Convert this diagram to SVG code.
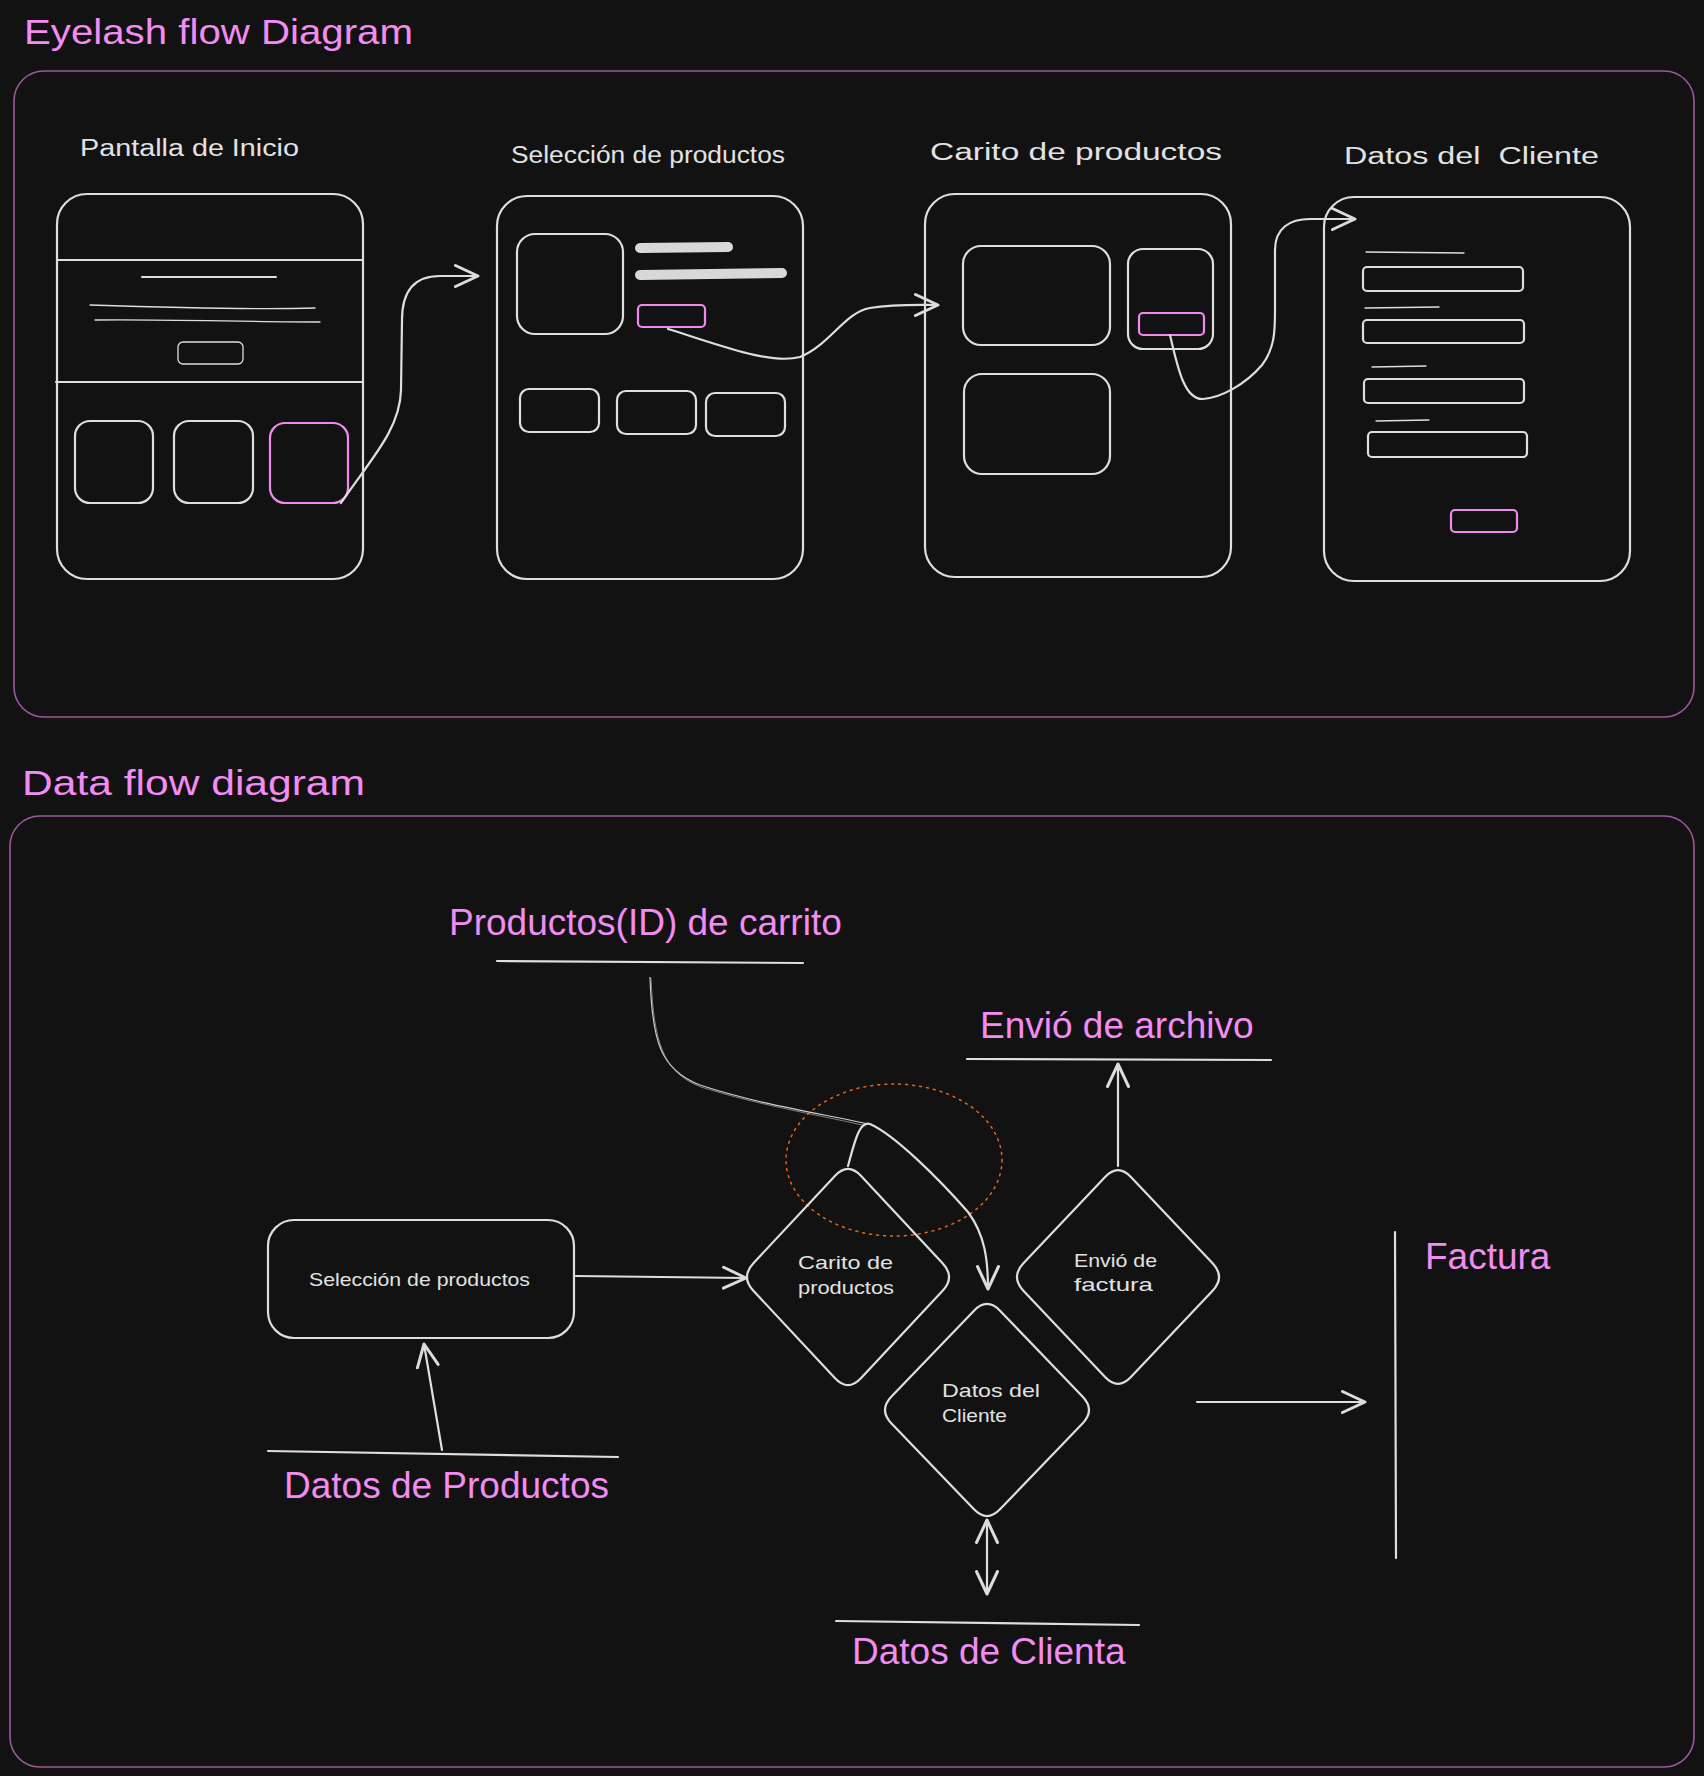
<svg xmlns="http://www.w3.org/2000/svg" width="1704" height="1776" viewBox="0 0 1704 1776">
<defs>
<marker id="arr" markerUnits="userSpaceOnUse" markerWidth="30" markerHeight="30" viewBox="-16 -10 20 20" refX="0" refY="0" orient="auto-start-reverse">
<path d="M-15,-7 L0,0 L-15,7" fill="none" stroke="#dcdcdc" stroke-width="2" stroke-linecap="round" stroke-linejoin="round"/>
</marker>
<style>
.bg{fill:#121212}
.frame{fill:none;stroke:#9c589c;stroke-width:1.6}
.w{fill:none;stroke:#dedede;stroke-width:2.2;stroke-linecap:round;stroke-linejoin:round}
.wt{fill:none;stroke:#dedede;stroke-width:1.3;stroke-linecap:round}
.pk{fill:none;stroke:#f08af0;stroke-width:2.2}
.bar{stroke:#d8d8d8;stroke-width:10;stroke-linecap:round}
.ttl{font-family:"Liberation Sans","DejaVu Sans",sans-serif;fill:#f28cf2;font-size:35px}
.hl{font-family:"Liberation Sans","DejaVu Sans",sans-serif;fill:#e2e2e2;font-size:23px}
.sm{font-family:"Liberation Sans","DejaVu Sans",sans-serif;fill:#e2e2e2;font-size:19px}
.pt{font-family:"Liberation Sans","DejaVu Sans",sans-serif;fill:#f28cf2;font-size:37px}
.conn{fill:none;stroke:#dedede;stroke-width:2.2;stroke-linecap:round}
</style>
</defs>
<rect class="bg" x="0" y="0" width="1704" height="1776"/>

<!-- Section 1 -->
<g id="title1"><text class="ttl" x="24" y="44" textLength="389" lengthAdjust="spacingAndGlyphs">Eyelash flow Diagram</text></g>
<g id="frame1"><rect class="frame" x="14" y="71" width="1680" height="646" rx="30"/></g>

<g id="screen-inicio">
<text class="hl" x="80" y="156" textLength="219" lengthAdjust="spacingAndGlyphs">Pantalla de Inicio</text>
<rect class="w" x="57" y="194" width="306" height="385" rx="30"/>
<line class="w" x1="57" y1="260" x2="363" y2="260"/>
<line class="w" x1="56" y1="382" x2="363" y2="382"/>
<line class="w" x1="142" y1="277" x2="276" y2="277" stroke-width="3.5"/>
<path class="wt" d="M90,305 C150,307 250,310 315,308"/>
<path class="wt" d="M95,320 C160,319 250,322 320,322"/>
<rect class="wt" x="178" y="342" width="65" height="22" rx="5"/>
<rect class="w" x="75" y="421" width="78" height="82" rx="15"/>
<rect class="w" x="174" y="421" width="79" height="82" rx="15"/>
<rect class="pk" x="270" y="423" width="78" height="80" rx="15"/>
</g>

<g id="screen-seleccion">
<text class="hl" x="511" y="163" textLength="274" lengthAdjust="spacingAndGlyphs">Selección de productos</text>
<rect class="w" x="497" y="196" width="306" height="383" rx="30"/>
<rect class="w" x="517" y="234" width="106" height="100" rx="18"/>
<line class="bar" x1="640" y1="248" x2="728" y2="247"/>
<line class="bar" x1="640" y1="275" x2="782" y2="273"/>
<rect class="pk" x="638" y="305" width="67" height="22" rx="4"/>
<rect class="w" x="520" y="389" width="79" height="43" rx="9"/>
<rect class="w" x="617" y="391" width="79" height="43" rx="9"/>
<rect class="w" x="706" y="393" width="79" height="43" rx="9"/>
</g>

<g id="screen-carrito">
<text class="hl" x="930" y="160" textLength="292" lengthAdjust="spacingAndGlyphs" font-size="25">Carito de productos</text>
<rect class="w" x="925" y="194" width="306" height="383" rx="30"/>
<rect class="w" x="963" y="246" width="147" height="99" rx="18"/>
<rect class="w" x="1128" y="249" width="85" height="100" rx="15"/>
<rect class="pk" x="1139" y="313" width="65" height="22" rx="4"/>
<rect class="w" x="964" y="374" width="146" height="100" rx="18"/>
</g>

<g id="screen-cliente">
<text class="hl" x="1344" y="164" textLength="255" lengthAdjust="spacingAndGlyphs" font-size="25" xml:space="preserve">Datos del  Cliente</text>
<rect class="w" x="1324" y="197" width="306" height="384" rx="30"/>
<line class="wt" x1="1366" y1="252" x2="1464" y2="253"/>
<rect class="w" x="1363" y="267" width="160" height="24" rx="4"/>
<line class="wt" x1="1365" y1="308" x2="1439" y2="307"/>
<rect class="w" x="1363" y="320" width="161" height="23" rx="4"/>
<line class="wt" x1="1372" y1="367" x2="1426" y2="366"/>
<rect class="w" x="1364" y="379" width="160" height="24" rx="4"/>
<line class="wt" x1="1376" y1="421" x2="1429" y2="420"/>
<rect class="w" x="1368" y="432" width="159" height="25" rx="4"/>
<rect class="pk" x="1451" y="510" width="66" height="22" rx="4"/>
</g>

<g id="connectors-top">
<path class="conn" d="M341,503 C370,460 400,430 401,390 L402,320 C402,290 415,276 440,276 L478,276" marker-end="url(#arr)"/>
<path class="conn" d="M668,329 C720,345 770,365 800,357 C830,345 845,312 870,308 C895,304 915,305 938,305" marker-end="url(#arr)"/>
<path class="conn" d="M1170,335 C1178,370 1185,400 1203,399 C1220,398 1245,385 1262,365 C1275,348 1275,330 1275,310 L1275,250 C1275,228 1290,219 1310,219 L1355,219" marker-end="url(#arr)"/>
</g>

<!-- Section 2 -->
<g id="title2"><text class="ttl" x="22" y="795" textLength="343" lengthAdjust="spacingAndGlyphs">Data flow diagram</text></g>
<g id="frame2"><rect class="frame" x="10" y="816" width="1684" height="951" rx="30"/></g>

<g id="store-productos-id">
<text class="pt" x="449" y="935">Productos(ID) de carrito</text>
<line class="w" x1="497" y1="961" x2="803" y2="963"/>
</g>

<g id="store-envio-archivo">
<text class="pt" x="980" y="1038">Envió de archivo</text>
<line class="w" x1="967" y1="1059" x2="1271" y2="1060"/>
</g>

<g id="store-datos-productos">
<line class="w" x1="268" y1="1451" x2="618" y2="1457"/>
<text class="pt" x="284" y="1498">Datos de Productos</text>
</g>

<g id="store-datos-clienta">
<line class="w" x1="836" y1="1621" x2="1139" y2="1625"/>
<text class="pt" x="852" y="1664">Datos de Clienta</text>
</g>

<g id="store-factura">
<line class="w" x1="1395" y1="1232" x2="1396" y2="1558"/>
<text class="pt" x="1425" y="1269">Factura</text>
</g>

<g id="highlight-ellipse">
<ellipse cx="894" cy="1160" rx="108" ry="76" fill="none" stroke="#e8661a" stroke-width="1.5" stroke-dasharray="2 5" stroke-linecap="round"/>
</g>

<g id="node-seleccion">
<rect class="w" x="268" y="1220" width="306" height="118" rx="26"/>
<text class="sm" x="309" y="1286" textLength="221" lengthAdjust="spacingAndGlyphs">Selección de productos</text>
</g>

<g id="node-carito">
<path class="w" d="M753.4,1263.2 L835.1,1175.8 Q848,1162 860.9,1175.8 L942.6,1263.2 Q955.5,1277 942.6,1290.8 L860.9,1378.2 Q848,1392 835.1,1378.2 L753.4,1290.8 Q740.5,1277 753.4,1263.2 Z"/>
<text class="sm" x="798" y="1269" textLength="95" lengthAdjust="spacingAndGlyphs">Carito de</text>
<text class="sm" x="798" y="1294" textLength="96" lengthAdjust="spacingAndGlyphs">productos</text>
</g>

<g id="node-datos-cliente">
<path class="w" d="M891.5,1396.5 L974,1310.7 Q987,1297.2 1000,1310.7 L1082.5,1396.5 Q1095.5,1410 1082.5,1423.5 L1000,1509.3 Q987,1522.8 974,1509.3 L891.5,1423.5 Q878.5,1410 891.5,1396.5 Z"/>
<text class="sm" x="942" y="1397" textLength="98" lengthAdjust="spacingAndGlyphs">Datos del</text>
<text class="sm" x="942" y="1422" textLength="65" lengthAdjust="spacingAndGlyphs">Cliente</text>
</g>

<g id="node-envio-factura">
<path class="w" d="M1023.4,1263.3 L1105.1,1176.9 Q1118,1163.2 1130.9,1176.9 L1212.6,1263.3 Q1225.5,1277 1212.6,1290.7 L1130.9,1377.1 Q1118,1390.8 1105.1,1377.1 L1023.4,1290.7 Q1010.5,1277 1023.4,1263.3 Z"/>
<text class="sm" x="1074" y="1267" textLength="83" lengthAdjust="spacingAndGlyphs">Envió de</text>
<text class="sm" x="1074" y="1291" textLength="79" lengthAdjust="spacingAndGlyphs">factura</text>
</g>

<g id="connectors-bottom">
<path d="M650,977 C652,1040 660,1070 700,1085 C760,1105 830,1115 868,1124" fill="none" stroke="#cfcfcf" stroke-width="1.2"/>
<path d="M651,978 C654,1041 662,1072 701,1087 C761,1106 830,1117 866,1126" fill="none" stroke="#9a9a9a" stroke-width="0.8"/>
<path class="conn" d="M848,1166 C855,1140 860,1120 870,1124 C895,1135 940,1180 968,1212 C985,1235 988,1260 988,1289" marker-end="url(#arr)"/>
<path class="conn" d="M576,1276 L746,1278" marker-end="url(#arr)"/>
<path class="conn" d="M442,1450 L424,1344" marker-end="url(#arr)"/>
<path class="conn" d="M1118,1166 L1118,1064" marker-end="url(#arr)"/>
<path class="conn" d="M987,1520 L987,1594" marker-start="url(#arr)" marker-end="url(#arr)"/>
<path class="conn" d="M1197,1402 L1365,1402" marker-end="url(#arr)"/>
</g>
</svg>
